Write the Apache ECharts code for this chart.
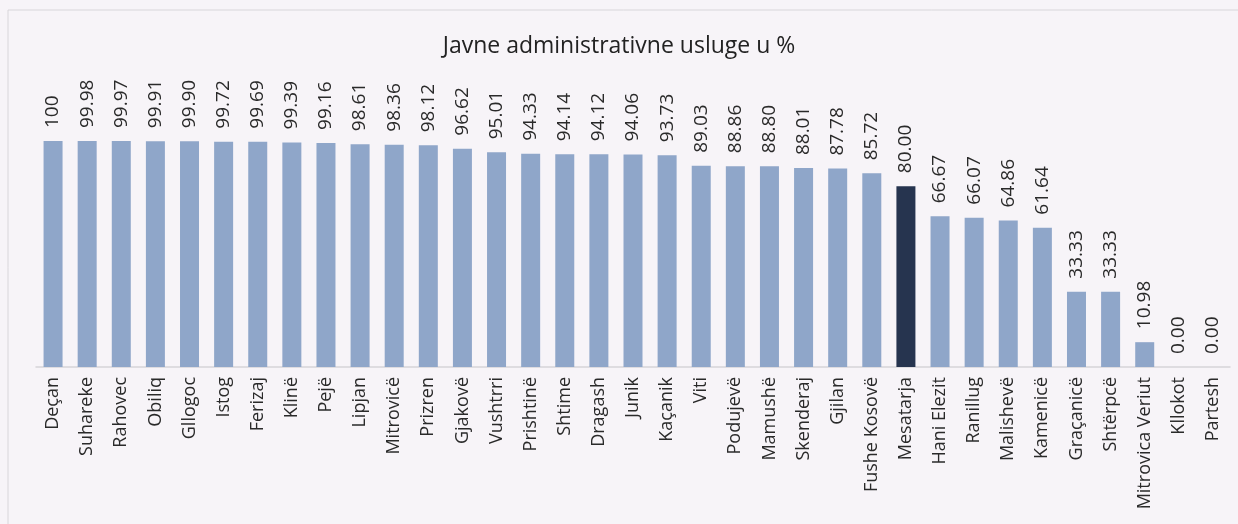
<!DOCTYPE html>
<html>
<head>
<meta charset="utf-8">
<script src="https://cdn.jsdelivr.net/npm/echarts@6/dist/echarts.min.js"></script>
<style>
  html, body { margin: 0; padding: 0; background: #f7f4f8; }
  #chartBox { width: 1238px; height: 524px; }
</style>
</head>
<body>
<div id="chartBox"></div>
<script>
const categories = ["Deçan", "Suhareke", "Rahovec", "Obiliq", "Gllogoc", "Istog", "Ferizaj", "Klinë", "Pejë", "Lipjan",
  "Mitrovicë", "Prizren", "Gjakovë", "Vushtrri", "Prishtinë", "Shtime", "Dragash", "Junik", "Kaçanik", "Viti",
  "Podujevë", "Mamushë", "Skenderaj", "Gjilan", "Fushe Kosovë", "Mesatarja", "Hani Elezit", "Ranillug", "Malishevë",
  "Kamenicë", "Graçanicë", "Shtërpcë", "Mitrovica Veriut", "Kllokot", "Partesh"];
const values = [100, 99.98, 99.97, 99.91, 99.90, 99.72, 99.69, 99.39, 99.16, 98.61,
  98.36, 98.12, 96.62, 95.01, 94.33, 94.14, 94.12, 94.06, 93.73, 89.03,
  88.86, 88.80, 88.01, 87.78, 85.72, 80.00, 66.67, 66.07, 64.86,
  61.64, 33.33, 33.33, 10.98, 0.00, 0.00];
const valueLabels = ["100", "99.98", "99.97", "99.91", "99.90", "99.72", "99.69", "99.39", "99.16", "98.61",
  "98.36", "98.12", "96.62", "95.01", "94.33", "94.14", "94.12", "94.06", "93.73", "89.03",
  "88.86", "88.80", "88.01", "87.78", "85.72", "80.00", "66.67", "66.07", "64.86",
  "61.64", "33.33", "33.33", "10.98", "0.00", "0.00"];
const highlight = "Mesatarja";

const myChart = echarts.init(document.getElementById("chartBox"));
const font = "'Open Sans', sans-serif";

const option = {
  backgroundColor: "#f7f4f8",
  animation: false,
  title: {
    text: "Javne administrativne usluge u %",
    left: "center",
    top: 30,
    textStyle: { fontFamily: font, fontSize: 23, fontWeight: "normal", color: "#222" }
  },
  graphic: [{
    type: "rect",
    shape: { x: 8, y: 10, width: 1240, height: 520 },
    style: { fill: "none", stroke: "#d8d6da", lineWidth: 1 }
  }],
  grid: { left: 36, right: 8, top: 141, bottom: 157 },
  xAxis: {
    type: "category",
    data: categories,
    axisTick: { show: false },
    axisLine: { lineStyle: { color: "#d6d4d8", width: 1.5 } },
    axisLabel: {
      rotate: 90,
      interval: 0,
      margin: 10,
      fontFamily: font,
      fontSize: 18,
      color: "#2a2a2a"
    }
  },
  yAxis: {
    type: "value",
    min: 0,
    max: 100,
    show: false,
    splitLine: { show: false }
  },
  series: [{
    type: "bar",
    barWidth: 19,
    data: values.map((v, i) => ({
      value: v,
      itemStyle: { color: categories[i] === highlight ? "#26344f" : "#8fa6c9" }
    })),
    label: {
      show: true,
      position: "top",
      rotate: 90,
      align: "left",
      verticalAlign: "middle",
      distance: 13,
      fontFamily: font,
      fontSize: 19,
      color: "#2a2a2a",
      formatter: p => valueLabels[p.dataIndex]
    }
  }]
};

option && myChart.setOption(option);
</script>
</body>
</html>
